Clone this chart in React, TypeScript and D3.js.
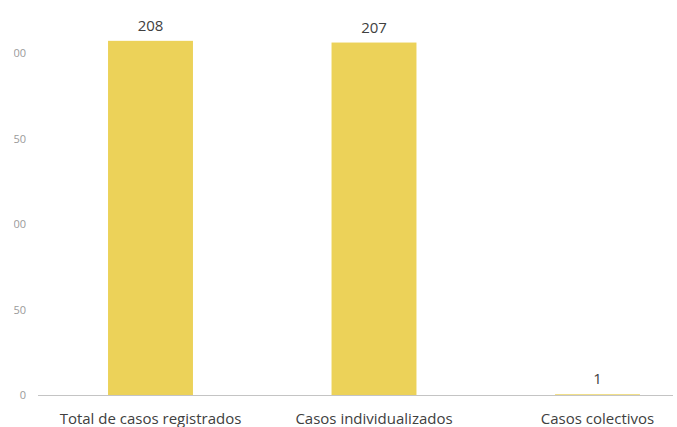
import React from "react";
import * as d3 from "d3";

const categories: string[] = ["Total de casos registrados", "Casos individualizados", "Casos colectivos"];
const values: number[] = [208, 207, 1];
const yTicks: number[] = [0, 50, 100, 150, 200];

const W = 677;
const H = 427;

export default function App() {
  const x = d3
    .scaleBand<string>()
    .domain(categories)
    .range([38.75, 709.25])
    .paddingInner(0.62)
    .paddingOuter(0.31);
  const y = d3.scaleLinear().domain([0, 200]).range([396, 54.5]);

  const barColor = "#ECD259";
  const textColor = "#404040";

  return (
    <div style={{ position: "fixed", left: 0, top: 0, width: W, height: H, background: "#fff" }}>
      <svg width={W} height={H} style={{ display: "block" }}>
        <defs>
          <clipPath id="tickClip">
            <rect x={13.5} y={0} width={40} height={H} />
          </clipPath>
        </defs>
        <rect x={0} y={0} width={W} height={H} fill="#fff" />
        {/* y tick labels (left part of the original image is cropped) */}
        <g clipPath="url(#tickClip)">
          {yTicks.map((t) => (
            <text
              key={t}
              x={26}
              y={y(t)}
              textAnchor="end"
              dominantBaseline="middle"
              fontFamily="'Open Sans', sans-serif"
              fontSize={11}
              fill="#9a9a9a"
            >
              {t}
            </text>
          ))}
        </g>
        {/* bars */}
        {categories.map((c, i) => (
          <rect
            key={c}
            x={x(c)}
            y={y(values[i])}
            width={x.bandwidth()}
            height={y(0) - y(values[i])}
            fill={barColor}
          />
        ))}
        {/* axis line */}
        <line x1={38} x2={673} y1={y(0) - 0.5} y2={y(0) - 0.5} stroke="#c4c4c4" strokeWidth={1.2} />
        {/* value labels */}
        {categories.map((c, i) => (
          <text
            key={c + "v"}
            x={(x(c) as number) + x.bandwidth() / 2}
            y={y(values[i]) - 10}
            textAnchor="middle"
            fontFamily="'Open Sans', sans-serif"
            fontSize={15}
            fill={textColor}
          >
            {values[i]}
          </text>
        ))}
        {/* category labels */}
        {categories.map((c) => (
          <text
            key={c + "l"}
            x={(x(c) as number) + x.bandwidth() / 2}
            y={424}
            textAnchor="middle"
            fontFamily="'Open Sans', sans-serif"
            fontSize={15}
            fill={textColor}
          >
            {c}
          </text>
        ))}
      </svg>
    </div>
  );
}
